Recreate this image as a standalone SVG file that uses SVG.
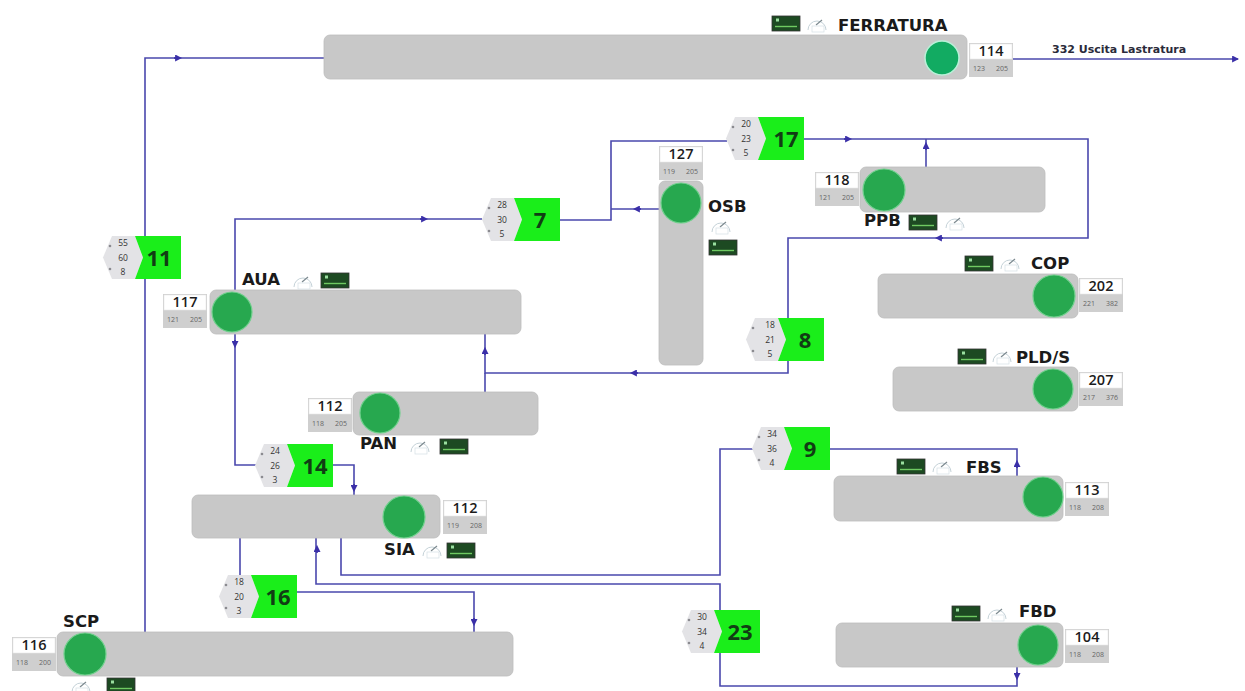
<svg xmlns="http://www.w3.org/2000/svg" xmlns:xlink="http://www.w3.org/1999/xlink" width="1245" height="691" viewBox="0 0 1245 691">
<style>
.bar{fill:#c8c8c8;stroke:#bcbcbc;stroke-width:.8}
.dot{fill:#27a84f;stroke:#6fd08c;stroke-width:1.2}
.conn{fill:none;stroke:#4a48ad;stroke-width:1.6}
.head{fill:none;stroke:#3a2fa8;stroke-width:1.6;marker-end:url(#arr)}
.nm{font:bold 16.5px "DejaVu Sans",sans-serif;fill:#1a1a1a}
.big{font:600 14.5px "Open Sans",sans-serif;fill:#1c1c1c;text-anchor:middle}
.sub{font:7px "Open Sans",sans-serif;fill:#666;text-anchor:middle}
.hx{font:8.5px "Open Sans",sans-serif;fill:#333;text-anchor:middle}
.bn{font:700 22px "Open Sans",sans-serif;fill:#113d14;text-anchor:middle}
.out{font:bold 11px "DejaVu Sans",sans-serif;fill:#2a2a3a}
</style>
<defs>
<marker id="arr" viewBox="0 0 10 10" refX="7" refY="5" markerWidth="7" markerHeight="7" markerUnits="userSpaceOnUse" orient="auto"><path d="M0 0L10 5L0 10z" fill="#3a2fa8"/></marker>
<g id="gauge"><path d="M-9 6A9 9 0 1 1 9 6" fill="#fff" stroke="#c5d2d8" stroke-width="1"/><path d="M-1 1L5 -4" stroke="#7d8a90" stroke-width="1.2"/><rect x="-5" y="2" width="12" height="6" fill="#fff" stroke="#d5dfe4" stroke-width=".7"/></g>
<g id="screen"><rect width="28" height="15" fill="#1d4a22" stroke="#333" stroke-width=".8"/><rect x="4" y="2.500" width="3" height="3" fill="#9adf9f"/><path d="M3 10.500H25" stroke="#6fca62" stroke-width="1.400"/></g>
<g id="badge"><polygon points="-23,0 0,0 8,21.500 0,43 -23,43 -32,21.500" fill="#e3e3e6"/><polygon points="0,0 46,0 46,43 0,43 8,21.500" fill="#1aee1a"/><circle cx="-25" cy="10" r="1.300" fill="#8b8b90"/><circle cx="-25" cy="33" r="1.300" fill="#8b8b90"/></g>
<g id="lbl"><rect width="44" height="34" fill="#cfcfcf"/><rect x="1" y="1" width="42" height="15" fill="#fff" stroke="#e6e6e6" stroke-width=".6"/></g>
</defs>

<g id="connectors">
<path class="conn" d="M145 632V58H324"/>
<path class="conn" d="M1012 59H1238"/>
<path class="conn" d="M235 290V219H482"/>
<path class="conn" d="M560 220H611V141H727"/>
<path class="conn" d="M661 209H611"/>
<path class="conn" d="M803 139H1088V238H788V318"/>
<path class="conn" d="M788 361V373H485V334"/>
<path class="conn" d="M485 373V392"/>
<path class="conn" d="M926 167V139"/>
<path class="conn" d="M235 334V465H256"/>
<path class="conn" d="M333 465H354V495"/>
<path class="conn" d="M240 538V575"/>
<path class="conn" d="M296 592H474V632"/>
<path class="conn" d="M316 538V584H720V610"/>
<path class="conn" d="M720 653V686H1017V667"/>
<path class="conn" d="M341 538V575H720V449H753"/>
<path class="conn" d="M829 449H1017V476"/>
<path class="head" d="M174 58h6"/>
<path class="head" d="M1232 59h5"/>
<path class="head" d="M420 219h6"/>
<path class="head" d="M641 209h-6"/>
<path class="head" d="M844 139h6"/>
<path class="head" d="M943 238h-6"/>
<path class="head" d="M638 373h-6"/>
<path class="head" d="M485 355v-6"/>
<path class="head" d="M926 150v-6"/>
<path class="head" d="M235 340v6"/>
<path class="head" d="M354 484v6"/>
<path class="head" d="M474 618v6"/>
<path class="head" d="M317 553v-6"/>
<path class="head" d="M1017 672v6"/>
<path class="head" d="M1017 468v-6"/>
</g>

<g id="node-ferratura">
<rect class="bar" x="324" y="35" width="643" height="44" rx="6"/><circle cx="942" cy="58" r="17" fill="#12ab62" stroke="#b9f0d8" stroke-width="1.500"/>
<use href="#lbl" x="969" y="43"/><text class="big" x="991" y="56">114</text><text class="sub" x="979" y="71">123</text><text class="sub" x="1002" y="71">205</text>
<text class="nm" x="838" y="31">FERRATURA</text><use href="#screen" x="772" y="16"/><use href="#gauge" x="817" y="24"/>
<text class="out" x="1052" y="53">332 Uscita Lastratura</text>
</g>
<g id="node-aua">
<rect class="bar" x="210" y="290" width="311" height="44" rx="6"/><circle class="dot" cx="232" cy="312" r="20"/>
<use href="#lbl" x="163" y="294"/><text class="big" x="185" y="307">117</text><text class="sub" x="173" y="322">121</text><text class="sub" x="196" y="322">205</text>
<text class="nm" x="242" y="285">AUA</text><use href="#gauge" x="303" y="281"/><use href="#screen" x="321" y="273"/>
</g>
<g id="node-osb">
<rect class="bar" x="659" y="181" width="44" height="184" rx="6"/><circle class="dot" cx="681" cy="203" r="20"/>
<use href="#lbl" x="659" y="146"/><text class="big" x="681" y="159">127</text><text class="sub" x="669" y="174">119</text><text class="sub" x="692" y="174">205</text>
<text class="nm" x="708" y="212">OSB</text><use href="#gauge" x="721" y="226"/><use href="#screen" x="709" y="240"/>
</g>
<g id="node-ppb">
<rect class="bar" x="860" y="167" width="185" height="45" rx="6"/><circle class="dot" cx="884" cy="190" r="21"/>
<use href="#lbl" x="815" y="172"/><text class="big" x="837" y="185">118</text><text class="sub" x="825" y="200">121</text><text class="sub" x="848" y="200">205</text>
<text class="nm" x="864" y="226">PPB</text><use href="#screen" x="909" y="215"/><use href="#gauge" x="955" y="222"/>
</g>
<g id="node-cop">
<rect class="bar" x="878" y="274" width="200" height="44" rx="6"/><circle class="dot" cx="1054" cy="296" r="21"/>
<use href="#lbl" x="1079" y="278"/><text class="big" x="1101" y="291">202</text><text class="sub" x="1089" y="306">221</text><text class="sub" x="1112" y="306">382</text>
<text class="nm" x="1031" y="269">COP</text><use href="#screen" x="965" y="256"/><use href="#gauge" x="1010" y="263"/>
</g>
<g id="node-plds">
<rect class="bar" x="893" y="367" width="185" height="44" rx="6"/><circle class="dot" cx="1053" cy="389" r="20"/>
<use href="#lbl" x="1079" y="372"/><text class="big" x="1101" y="385">207</text><text class="sub" x="1089" y="400">217</text><text class="sub" x="1112" y="400">376</text>
<text class="nm" x="1016" y="363">PLD/S</text><use href="#screen" x="958" y="349"/><use href="#gauge" x="1002" y="356"/>
</g>
<g id="node-fbs">
<rect class="bar" x="834" y="476" width="229" height="45" rx="6"/><circle class="dot" cx="1043" cy="497" r="20"/>
<use href="#lbl" x="1065" y="482"/><text class="big" x="1087" y="495">113</text><text class="sub" x="1075" y="510">118</text><text class="sub" x="1098" y="510">208</text>
<text class="nm" x="966" y="473">FBS</text><use href="#screen" x="897" y="459"/><use href="#gauge" x="942" y="466"/>
</g>
<g id="node-fbd">
<rect class="bar" x="836" y="623" width="227" height="44" rx="6"/><circle class="dot" cx="1038" cy="645" r="20"/>
<use href="#lbl" x="1065" y="629"/><text class="big" x="1087" y="642">104</text><text class="sub" x="1075" y="657">118</text><text class="sub" x="1098" y="657">208</text>
<text class="nm" x="1019" y="617">FBD</text><use href="#screen" x="952" y="606"/><use href="#gauge" x="997" y="613"/>
</g>
<g id="node-pan">
<rect class="bar" x="353" y="392" width="185" height="43" rx="6"/><circle class="dot" cx="380" cy="413" r="20"/>
<use href="#lbl" x="308" y="398"/><text class="big" x="330" y="411">112</text><text class="sub" x="318" y="426">118</text><text class="sub" x="341" y="426">205</text>
<text class="nm" x="360" y="449">PAN</text><use href="#gauge" x="420" y="446"/><use href="#screen" x="440" y="439"/>
</g>
<g id="node-sia">
<rect class="bar" x="192" y="495" width="248" height="43" rx="6"/><circle class="dot" cx="404" cy="517" r="21"/>
<use href="#lbl" x="443" y="500"/><text class="big" x="465" y="513">112</text><text class="sub" x="453" y="528">119</text><text class="sub" x="476" y="528">208</text>
<text class="nm" x="384" y="555">SIA</text><use href="#gauge" x="432" y="550"/><use href="#screen" x="447" y="543"/>
</g>
<g id="node-scp">
<rect class="bar" x="57" y="632" width="456" height="44" rx="6"/><circle class="dot" cx="85" cy="654" r="21"/>
<use href="#lbl" x="12" y="637"/><text class="big" x="34" y="650">116</text><text class="sub" x="22" y="665">118</text><text class="sub" x="45" y="665">200</text>
<text class="nm" x="63" y="627">SCP</text><use href="#gauge" x="81" y="686"/><use href="#screen" x="107" y="678"/>
</g>

<g id="badge-11" transform="translate(135 236)"><use href="#badge"/><text class="hx" x="-12" y="10">55</text><text class="hx" x="-12" y="25">60</text><text class="hx" x="-12" y="39">8</text><text class="bn" x="24" y="29.500">11</text></g>
<g id="badge-7" transform="translate(514 198)"><use href="#badge"/><text class="hx" x="-12" y="10">28</text><text class="hx" x="-12" y="25">30</text><text class="hx" x="-12" y="39">5</text><text class="bn" x="26" y="29.500">7</text></g>
<g id="badge-17" transform="translate(758 117)"><use href="#badge"/><text class="hx" x="-12" y="10">20</text><text class="hx" x="-12" y="25">23</text><text class="hx" x="-12" y="39">5</text><text class="bn" x="28" y="29.500">17</text></g>
<g id="badge-8" transform="translate(778 318)"><use href="#badge"/><text class="hx" x="-8" y="10">18</text><text class="hx" x="-8" y="25">21</text><text class="hx" x="-8" y="39">5</text><text class="bn" x="27" y="29.500">8</text></g>
<g id="badge-9" transform="translate(784 427)"><use href="#badge"/><text class="hx" x="-12" y="10">34</text><text class="hx" x="-12" y="25">36</text><text class="hx" x="-12" y="39">4</text><text class="bn" x="26" y="29.500">9</text></g>
<g id="badge-23" transform="translate(714 610)"><use href="#badge"/><text class="hx" x="-12" y="10">30</text><text class="hx" x="-12" y="25">34</text><text class="hx" x="-12" y="39">4</text><text class="bn" x="26" y="29.500">23</text></g>
<g id="badge-14" transform="translate(287 444)"><use href="#badge"/><text class="hx" x="-12" y="10">24</text><text class="hx" x="-12" y="25">26</text><text class="hx" x="-12" y="39">3</text><text class="bn" x="28" y="29.500">14</text></g>
<g id="badge-16" transform="translate(251 575)"><use href="#badge"/><text class="hx" x="-12" y="10">18</text><text class="hx" x="-12" y="25">20</text><text class="hx" x="-12" y="39">3</text><text class="bn" x="27" y="29.500">16</text></g>
</svg>
